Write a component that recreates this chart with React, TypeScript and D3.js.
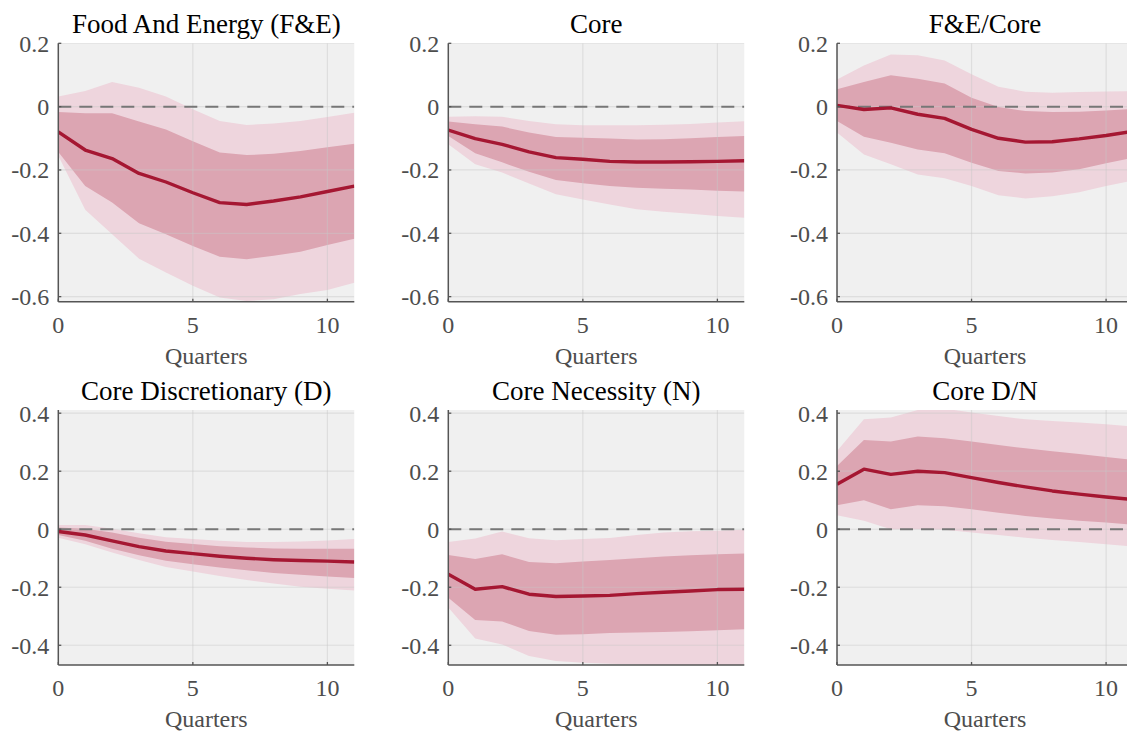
import React from "react";
import * as d3 from "d3";

const quarters = [0, 1, 2, 3, 4, 5, 6, 7, 8, 9, 10, 11];
const titles = ["Food And Energy (F&E)", "Core", "F&E/Core", "Core Discretionary (D)", "Core Necessity (N)", "Core D/N"];
const xTicks = [0, 5, 10];
const yTicksTop = [0.2, 0, -0.2, -0.4, -0.6];
const yTicksBottom = [0.4, 0.2, 0, -0.2, -0.4];
const yDomainTop = [-0.616, 0.2];
const yDomainBottom = [-0.468, 0.411];
const xLabel = "Quarters";

// Panel 1: Food And Energy
const feMean = [-0.080, -0.137, -0.164, -0.211, -0.238, -0.272, -0.303, -0.309, -0.298, -0.285, -0.268, -0.251];
const feIn68Hi = [-0.017, -0.021, -0.021, -0.047, -0.072, -0.109, -0.145, -0.153, -0.149, -0.140, -0.128, -0.117];
const feIn68Lo = [-0.143, -0.251, -0.303, -0.368, -0.403, -0.440, -0.474, -0.482, -0.471, -0.458, -0.437, -0.417];
const feOut90Hi = [0.032, 0.049, 0.078, 0.060, 0.032, -0.008, -0.045, -0.058, -0.053, -0.045, -0.033, -0.019];
const feOut90Lo = [-0.155, -0.326, -0.403, -0.480, -0.524, -0.566, -0.603, -0.614, -0.608, -0.592, -0.579, -0.556];

// Panel 2: Core
const coreMean = [-0.074, -0.101, -0.119, -0.143, -0.161, -0.166, -0.173, -0.175, -0.175, -0.174, -0.173, -0.171];
const coreIn68Hi = [-0.047, -0.056, -0.063, -0.082, -0.096, -0.098, -0.101, -0.104, -0.103, -0.100, -0.096, -0.093];
const coreIn68Lo = [-0.093, -0.147, -0.176, -0.206, -0.232, -0.242, -0.251, -0.256, -0.259, -0.262, -0.266, -0.268];
const coreOut90Hi = [-0.032, -0.030, -0.032, -0.045, -0.056, -0.059, -0.059, -0.059, -0.057, -0.055, -0.050, -0.046];
const coreOut90Lo = [-0.119, -0.182, -0.208, -0.243, -0.277, -0.293, -0.309, -0.324, -0.332, -0.338, -0.345, -0.351];

// Panel 3: F&E/Core
const ratioMean = [0.004, -0.009, -0.004, -0.024, -0.037, -0.072, -0.100, -0.112, -0.111, -0.102, -0.091, -0.078];
const ratioIn68Hi = [0.055, 0.078, 0.099, 0.088, 0.073, 0.028, -0.001, -0.014, -0.017, -0.016, -0.012, -0.007];
const ratioIn68Lo = [-0.045, -0.095, -0.114, -0.135, -0.147, -0.177, -0.203, -0.211, -0.208, -0.198, -0.179, -0.161];
const ratioOut90Hi = [0.086, 0.130, 0.165, 0.162, 0.146, 0.102, 0.063, 0.047, 0.044, 0.046, 0.048, 0.049];
const ratioOut90Lo = [-0.082, -0.151, -0.182, -0.214, -0.226, -0.251, -0.280, -0.290, -0.283, -0.270, -0.251, -0.233];

// Panel 4: Core Discretionary
const discMean = [-0.008, -0.020, -0.040, -0.060, -0.075, -0.084, -0.093, -0.100, -0.105, -0.108, -0.110, -0.113];
const discIn68Hi = [0.006, 0.002, -0.011, -0.029, -0.043, -0.051, -0.059, -0.063, -0.066, -0.067, -0.067, -0.067];
const discIn68Lo = [-0.020, -0.040, -0.067, -0.090, -0.109, -0.121, -0.132, -0.141, -0.151, -0.157, -0.163, -0.168];
const discOut90Hi = [0.015, 0.015, 0.002, -0.014, -0.028, -0.034, -0.040, -0.044, -0.044, -0.042, -0.039, -0.034];
const discOut90Lo = [-0.029, -0.052, -0.080, -0.106, -0.130, -0.146, -0.161, -0.175, -0.187, -0.198, -0.205, -0.211];

// Panel 5: Core Necessity
const necMean = [-0.155, -0.207, -0.198, -0.224, -0.232, -0.230, -0.228, -0.222, -0.217, -0.213, -0.208, -0.207];
const necIn68Hi = [-0.089, -0.103, -0.086, -0.113, -0.117, -0.111, -0.106, -0.100, -0.094, -0.090, -0.086, -0.084];
const necIn68Lo = [-0.236, -0.313, -0.318, -0.351, -0.364, -0.362, -0.358, -0.356, -0.354, -0.352, -0.348, -0.345];
const necOut90Hi = [-0.044, -0.032, -0.008, -0.031, -0.038, -0.034, -0.030, -0.020, -0.011, -0.007, -0.005, -0.002];
const necOut90Lo = [-0.270, -0.377, -0.397, -0.437, -0.454, -0.460, -0.464, -0.466, -0.470, -0.472, -0.470, -0.468];

// Panel 6: Core D/N
const dnMean = [0.155, 0.207, 0.189, 0.200, 0.195, 0.178, 0.161, 0.146, 0.132, 0.121, 0.111, 0.102];
const dnIn68Hi = [0.218, 0.308, 0.302, 0.320, 0.314, 0.302, 0.290, 0.279, 0.269, 0.259, 0.249, 0.239];
const dnIn68Lo = [0.083, 0.100, 0.069, 0.083, 0.079, 0.069, 0.057, 0.046, 0.037, 0.029, 0.023, 0.016];
const dnOut90Hi = [0.270, 0.379, 0.385, 0.411, 0.416, 0.402, 0.390, 0.379, 0.373, 0.368, 0.362, 0.354];
const dnOut90Lo = [0.048, 0.029, 0.000, 0.000, -0.002, -0.011, -0.020, -0.029, -0.037, -0.044, -0.052, -0.060];

const panelSeries = [
  { mean: feMean, in68Hi: feIn68Hi, in68Lo: feIn68Lo, out90Hi: feOut90Hi, out90Lo: feOut90Lo },
  { mean: coreMean, in68Hi: coreIn68Hi, in68Lo: coreIn68Lo, out90Hi: coreOut90Hi, out90Lo: coreOut90Lo },
  { mean: ratioMean, in68Hi: ratioIn68Hi, in68Lo: ratioIn68Lo, out90Hi: ratioOut90Hi, out90Lo: ratioOut90Lo },
  { mean: discMean, in68Hi: discIn68Hi, in68Lo: discIn68Lo, out90Hi: discOut90Hi, out90Lo: discOut90Lo },
  { mean: necMean, in68Hi: necIn68Hi, in68Lo: necIn68Lo, out90Hi: necOut90Hi, out90Lo: necOut90Lo },
  { mean: dnMean, in68Hi: dnIn68Hi, in68Lo: dnIn68Lo, out90Hi: dnOut90Hi, out90Lo: dnOut90Lo },
];

const W = 1127;
const H = 733;
const colLefts = [58.3, 448.3, 837];
const plotW = 296;
const rows = [
  { top: 43.3, bottom: 301.7, domain: yDomainTop, ticks: yTicksTop },
  { top: 410, bottom: 665, domain: yDomainBottom, ticks: yTicksBottom },
];

const FONT = "'Liberation Serif', 'Times New Roman', serif";
const TICK_COLOR = "#4d4d4d";
const AXIS_COLOR = "#555555";

function fmt(v: number) {
  if (Math.abs(v) < 1e-9) return "0";
  return (v < 0 ? "-" : "") + Math.abs(v).toFixed(1);
}

function Panel({ idx }: { idx: number }) {
  const row = rows[Math.floor(idx / 3)];
  const left = colLefts[idx % 3];
  const s = panelSeries[idx];
  const x = d3.scaleLinear().domain([0, 11]).range([left, left + plotW]);
  const y = d3.scaleLinear().domain(row.domain).range([row.bottom, row.top]);
  const band = (lo: number[], hi: number[]) =>
    d3
      .area<number>()
      .x((d) => x(d))
      .y0((_, i) => y(lo[i]))
      .y1((_, i) => y(hi[i]))(quarters) || "";
  const line = d3
    .line<number>()
    .x((d) => x(d))
    .y((_, i) => y(s.mean[i]))(quarters) || "";
  const clipId = `clip-${idx}`;
  const gridColor = "#c8c8c8";
  return (
    <g>
      <defs>
        <clipPath id={clipId}>
          <rect x={left} y={row.top} width={plotW} height={row.bottom - row.top} />
        </clipPath>
      </defs>
      <rect x={left} y={row.top} width={plotW} height={row.bottom - row.top} fill="#f0f0f0" />
      <g clipPath={`url(#${clipId})`}>
        <path d={band(s.out90Lo, s.out90Hi)} fill="#eed5dd" />
        <path d={band(s.in68Lo, s.in68Hi)} fill="#dca5b2" />
        {row.ticks.map((t) => (
          <line key={`gy${t}`} x1={left} x2={left + plotW} y1={y(t)} y2={y(t)} stroke={gridColor} strokeOpacity={0.45} strokeWidth={1.2} />
        ))}
        {xTicks.map((t) => (
          <line key={`gx${t}`} x1={x(t)} x2={x(t)} y1={row.top} y2={row.bottom} stroke={gridColor} strokeOpacity={0.45} strokeWidth={1.2} />
        ))}
        <line x1={x(0)} x2={left + plotW} y1={y(0)} y2={y(0)} stroke="#777777" strokeWidth={2} strokeDasharray="13,8" />
        <path d={line} fill="none" stroke="#a51732" strokeWidth={3.4} strokeLinejoin="round" />
      </g>
      {/* axes */}
      <line x1={left} x2={left} y1={row.top} y2={row.bottom} stroke={AXIS_COLOR} strokeWidth={1.5} />
      <line x1={left} x2={left + plotW} y1={row.bottom} y2={row.bottom} stroke={AXIS_COLOR} strokeWidth={1.5} />
      {row.ticks.map((t) => (
        <g key={`ty${t}`}>
          <line x1={left} x2={left + 3} y1={y(t)} y2={y(t)} stroke={AXIS_COLOR} strokeWidth={1.3} />
          <text x={left - 9} y={y(t)} dy="0.35em" textAnchor="end" fontFamily={FONT} fontSize={24} fill={TICK_COLOR}>
            {fmt(t)}
          </text>
        </g>
      ))}
      {xTicks.map((t) => (
        <g key={`tx${t}`}>
          <line x1={x(t)} x2={x(t)} y1={row.bottom} y2={row.bottom - 3} stroke={AXIS_COLOR} strokeWidth={1.3} />
          <text x={x(t)} y={row.bottom + 31} textAnchor="middle" fontFamily={FONT} fontSize={24} fill={TICK_COLOR}>
            {t}
          </text>
        </g>
      ))}
      <text x={left + plotW / 2} y={row.bottom + 62} textAnchor="middle" fontFamily={FONT} fontSize={24} fill={TICK_COLOR}>
        {xLabel}
      </text>
      <text x={left + plotW / 2} y={row.top - 10} textAnchor="middle" fontFamily={FONT} fontSize={27} fill="#000000">
        {titles[idx]}
      </text>
    </g>
  );
}

export default function App() {
  return (
    <svg width={W} height={H} style={{ position: "absolute", left: 0, top: 0, background: "#ffffff" }}>
      {titles.map((_, i) => (
        <Panel key={i} idx={i} />
      ))}
    </svg>
  );
}
